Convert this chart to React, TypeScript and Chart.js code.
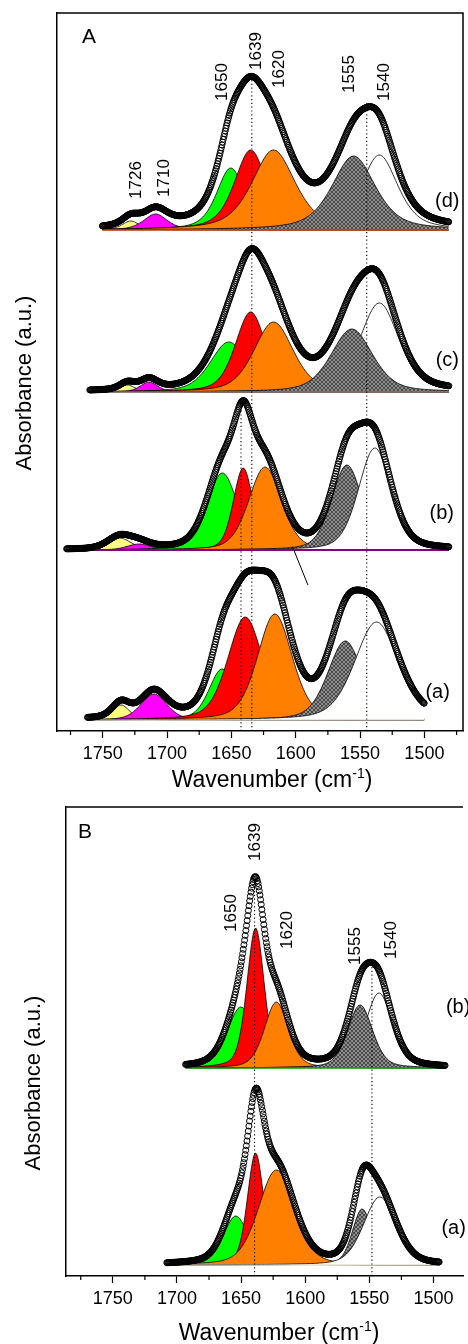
import React, { useEffect, useRef } from "react";
import { Chart, registerables } from "chart.js";

Chart.register(...registerables);

const FONT = "'Liberation Sans', Arial, Helvetica, sans-serif";

// ---------- axes ----------
const X_STEP = 50;
const X_MINOR_TICKS = [1475, 1525, 1575, 1625, 1675, 1725, 1775];
const A_X_RANGE = [1470, 1785.5];
const B_X_RANGE = [1477, 1786.5];
const A_Y_MAX = 7.18;
const B_Y_MAX = 4.69;

// ---------- band colours ----------
const BAND_FILLS_A = ["#ffff80", "#ff00ff", "#00ff00", "#ff0000", "#ff8000", "hatch", "#ffffff"];
const BAND_FILLS_B = ["#00ff00", "#ff0000", "#ff8000", "hatch", "#ffffff"];

// ---------- Panel A, spectrum (a) ----------
const A_A_CENTER = [1735.8, 1710.2, 1657.2, 1639.2, 1616.2, 1561.5, 1537.2];
const A_A_HEIGHT = [0.15, 0.26, 0.51, 1.03, 1.06, 0.79, 0.98];
const A_A_FWHM = [16, 24, 24, 32, 32, 32, 40];
const A_A_PAINT = [0, 1, 2, 3, 4, 5, 6];
const A_A_RANGE = [1761.8, 1500.2];
const A_A_BASE = 0.11;
const A_A_ETA = 0.35;

// ---------- Panel A, spectrum (b) ----------
const A_B_CENTER = [1737, 1721.8, 1657, 1640.8, 1623.8, 1560.2, 1538.5];
const A_B_HEIGHT = [0.12, 0.06, 0.77, 0.82, 0.83, 0.85, 1.02];
const A_B_FWHM = [22, 22, 28, 18, 30, 28, 30];
const A_B_PAINT = [0, 1, 2, 3, 4, 5, 6];
const A_B_RANGE = [1778, 1481];
const A_B_BASE = 1.81;
const A_B_ETA = 0.3;

// ---------- Panel A, spectrum (c) ----------
const A_C_CENTER = [1730.8, 1714, 1652, 1635, 1617.2, 1556.4, 1535];
const A_C_HEIGHT = [0.07, 0.1, 0.5, 0.8, 0.7, 0.63, 0.89];
const A_C_FWHM = [14, 16, 34, 28, 36, 38, 36];
const A_C_PAINT = [0, 1, 2, 3, 4, 6, 5];
const A_C_RANGE = [1760, 1481];
const A_C_BASE = 3.39;
const A_C_ETA = 0.4;

// ---------- Panel A, spectrum (d) ----------
const A_D_CENTER = [1728.2, 1708.9, 1650.5, 1635, 1617.2, 1555, 1535];
const A_D_HEIGHT = [0.09, 0.16, 0.62, 0.8, 0.8, 0.74, 0.75];
const A_D_FWHM = [16, 22, 26, 30, 40, 40, 34];
const A_D_PAINT = [0, 1, 2, 3, 4, 6, 5];
const A_D_RANGE = [1750.3, 1481.2];
const A_D_BASE = 5.01;
const A_D_ETA = 0.55;

// ---------- Panel B, spectrum (a) ----------
const B_A_CENTER = [1654.1, 1638.7, 1622.5, 1555.6, 1541.8];
const B_A_HEIGHT = [0.49, 1.12, 0.95, 0.56, 0.68];
const B_A_FWHM = [23, 15, 33, 18, 30];
const B_A_PAINT = [0, 1, 2, 3, 4];
const B_A_RANGE = [1707.9, 1495.6];
const B_A_BASE = 0.11;
const B_A_ETA = 0.3;

// ---------- Panel B, spectrum (b) ----------
const B_B_CENTER = [1650.2, 1638.7, 1622.5, 1557.2, 1542.5];
const B_B_HEIGHT = [0.61, 1.4, 0.66, 0.63, 0.75];
const B_B_FWHM = [25, 16, 22, 23, 25];
const B_B_PAINT = [0, 1, 2, 4, 3];
const B_B_RANGE = [1693.3, 1491];
const B_B_BASE = 2.08;
const B_B_ETA = 0.35;

// ---------- guides / annotations ----------
const A_GUIDE_X = [1634.1, 1642.5, 1544.8];
const A_GUIDE_TOP = [6.51, 3.31, 6.28];
const B_GUIDE_X = [1639.5, 1548];
const B_GUIDE_TOP = [3.99, 3.12];
const A_STROKE_X = [1602.5, 1590.5];
const A_STROKE_Y = [1.843, 1.46];

const A_LABELS = ["1726", "1710", "1650", "1639", "1620", "1555", "1540"];
const A_LABEL_X = [1724.1, 1701.8, 1657.2, 1631, 1612.5, 1558.7, 1531];
const A_LABEL_Y = [5.51, 5.53, 6.49, 6.8, 6.62, 6.57, 6.49];
const B_LABELS = ["1650", "1639", "1620", "1555", "1540"];
const B_LABEL_X = [1657.9, 1638.7, 1614, 1561.2, 1533.2];
const B_LABEL_Y = [3.63, 4.34, 3.46, 3.3, 3.36];

const A_TAGS = ["(a)", "(b)", "(c)", "(d)"];
const A_TAG_X = [1489.7, 1486.5, 1482.2, 1482.2];
const A_TAG_Y = [0.39, 2.18, 3.71, 5.3];
const B_TAGS = ["(a)", "(b)"];
const B_TAG_X = [1484.3, 1480.8];
const B_TAG_Y = [0.48, 2.69];

const X_TITLE = ["Wavenumber (cm", "-1", ")"];
const Y_TITLE = "Absorbance (a.u.)";

interface Spectrum {
  centers: number[];
  heights: number[];
  fwhm: number[];
  fills: string[];
  paint: number[];
  range: number[];
  base: number;
  eta: number;
  baseColor: string;
  baseWidth: number;
}

function band(x: number, c: number, h: number, f: number, eta: number) {
  const u = (x - c) / f;
  return h * (eta / (1 + 4 * u * u) + (1 - eta) * Math.exp(-4 * Math.LN2 * u * u));
}

function sampleXs(range: number[], step: number) {
  const xs: number[] = [];
  for (let x = range[0]; x > range[1] + 1e-6; x -= step) xs.push(x);
  xs.push(range[1]);
  return xs;
}

function makeHatch(): CanvasPattern | string {
  const c = document.createElement("canvas");
  c.width = 4;
  c.height = 4;
  const g = c.getContext("2d");
  if (!g) return "#888";
  g.fillStyle = "#8e8e8e";
  g.fillRect(0, 0, 4, 4);
  g.strokeStyle = "#2c2c2c";
  g.lineWidth = 0.7;
  g.beginPath();
  g.moveTo(0, 0);
  g.lineTo(4, 4);
  g.moveTo(4, 0);
  g.lineTo(0, 4);
  g.stroke();
  return g.createPattern(c, "repeat") || "#888";
}

function buildDatasets(
  specs: Spectrum[],
  guideX: number[],
  guideTop: number[],
  hatch: CanvasPattern | string,
  strokeX: number[] | null,
  strokeY: number[] | null
) {
  const list: any[] = [];
  for (const s of specs) {
    const xs = sampleXs(s.range, 1);
    for (const i of s.paint) {
      const fillKey = s.fills[i];
      list.push({
        data: xs.map((x) => ({ x, y: s.base + band(x, s.centers[i], s.heights[i], s.fwhm[i], s.eta) })),
        borderColor: "#000",
        borderWidth: 0.8,
        backgroundColor: fillKey === "hatch" ? hatch : fillKey,
        fill: { value: s.base },
        pointRadius: 0,
        showLine: true,
      });
    }
  }
  for (const s of specs) {
    list.push({
      data: [
        { x: s.range[0], y: s.base },
        { x: s.range[1], y: s.base },
      ],
      borderColor: s.baseColor,
      borderWidth: s.baseWidth,
      pointRadius: 0,
      fill: false,
    });
  }
  guideX.forEach((gx, k) => {
    list.push({
      data: [
        { x: gx, y: 0 },
        { x: gx, y: guideTop[k] },
      ],
      borderColor: "#000",
      borderWidth: 1.1,
      borderDash: [1.2, 2.6],
      pointRadius: 0,
      fill: false,
    });
  });
  if (strokeX && strokeY) {
    list.push({
      data: strokeX.map((x, k) => ({ x, y: strokeY[k] })),
      borderColor: "#000",
      borderWidth: 1,
      pointRadius: 0,
      fill: false,
    });
  }
  for (const s of specs) {
    const xs = sampleXs(s.range, 0.5);
    list.push({
      data: xs.map((x) => {
        let y = s.base;
        for (let i = 0; i < s.centers.length; i++) y += band(x, s.centers[i], s.heights[i], s.fwhm[i], s.eta);
        return { x, y };
      }),
      showLine: false,
      pointRadius: 3,
      pointBorderWidth: 1,
      pointBorderColor: "#000",
      pointBackgroundColor: "rgba(0,0,0,0)",
      borderColor: "#000",
      fill: false,
    });
  }
  return list.reverse();
}

interface PanelText {
  labels: string[];
  labelX: number[];
  labelY: number[];
  tags: string[];
  tagX: number[];
  tagY: number[];
  letter: string;
  letterX: number;
  letterY: number;
  rightBorder: boolean;
  xTitleCx: number;
  xTitleBase: number;
  yTitleCx: number;
  yTitleCy: number;
}

function annotPlugin(p: PanelText) {
  return {
    id: "annot",
    afterDraw(chart: any) {
      const { ctx, chartArea } = chart;
      const xs = chart.scales.x;
      const ys = chart.scales.y;
      ctx.save();
      ctx.strokeStyle = "#000";
      ctx.lineWidth = 1.5;
      ctx.beginPath();
      ctx.moveTo(chartArea.left, chartArea.top);
      ctx.lineTo(chartArea.right, chartArea.top);
      if (p.rightBorder) ctx.lineTo(chartArea.right, chartArea.bottom);
      ctx.stroke();
      ctx.lineWidth = 1.2;
      for (const v of X_MINOR_TICKS) {
        const px = xs.getPixelForValue(v);
        if (px < chartArea.left || px > chartArea.right) continue;
        ctx.beginPath();
        ctx.moveTo(px, chartArea.bottom);
        ctx.lineTo(px, chartArea.bottom + 4);
        ctx.stroke();
      }
      ctx.fillStyle = "#000";
      ctx.textAlign = "center";
      ctx.textBaseline = "middle";
      ctx.font = `17px ${FONT}`;
      p.labels.forEach((t, k) => {
        ctx.save();
        ctx.translate(xs.getPixelForValue(p.labelX[k]), ys.getPixelForValue(p.labelY[k]));
        ctx.rotate(-Math.PI / 2);
        ctx.fillText(t, 0, 0);
        ctx.restore();
      });
      ctx.font = `20px ${FONT}`;
      p.tags.forEach((t, k) => {
        ctx.fillText(t, xs.getPixelForValue(p.tagX[k]), ys.getPixelForValue(p.tagY[k]));
      });
      ctx.font = `21px ${FONT}`;
      ctx.fillText(p.letter, p.letterX, p.letterY);
      ctx.font = `22px ${FONT}`;
      ctx.save();
      ctx.translate(p.yTitleCx, p.yTitleCy);
      ctx.rotate(-Math.PI / 2);
      ctx.fillText(Y_TITLE, 0, 0);
      ctx.restore();
      ctx.textAlign = "left";
      ctx.textBaseline = "alphabetic";
      ctx.font = `23px ${FONT}`;
      const w0 = ctx.measureText(X_TITLE[0]).width;
      const w2 = ctx.measureText(X_TITLE[2]).width;
      ctx.font = `14px ${FONT}`;
      const w1 = ctx.measureText(X_TITLE[1]).width;
      let cx = p.xTitleCx - (w0 + w1 + w2) / 2;
      ctx.font = `23px ${FONT}`;
      ctx.fillText(X_TITLE[0], cx, p.xTitleBase);
      cx += w0;
      ctx.font = `14px ${FONT}`;
      ctx.fillText(X_TITLE[1], cx, p.xTitleBase - 9);
      cx += w1;
      ctx.font = `23px ${FONT}`;
      ctx.fillText(X_TITLE[2], cx, p.xTitleBase);
      ctx.restore();
    },
  };
}

function makeConfig(
  datasets: any[],
  xRange: number[],
  yMax: number,
  yWidth: number,
  padTop: number,
  padRight: number,
  xHeight: number,
  text: PanelText
): any {
  return {
    type: "line",
    data: { datasets },
    options: {
      animation: false,
      responsive: false,
      devicePixelRatio: 1,
      events: [],
      layout: { padding: { top: padTop, right: padRight, left: 0, bottom: 0 } },
      elements: { line: { tension: 0 } },
      plugins: { legend: { display: false }, tooltip: { enabled: false }, title: { display: false } },
      scales: {
        x: {
          type: "linear",
          reverse: true,
          min: xRange[0],
          max: xRange[1],
          afterFit: (s: any) => {
            s.height = xHeight;
          },
          ticks: {
            stepSize: X_STEP,
            includeBounds: false,
            autoSkip: false,
            maxRotation: 0,
            padding: 5,
            color: "#000",
            font: { family: FONT, size: 18 },
            callback: (v: any) => String(v),
          },
          grid: {
            display: true,
            drawOnChartArea: false,
            drawTicks: true,
            tickLength: 7,
            tickWidth: 1.2,
            tickColor: "#000",
            color: "#000",
          },
          border: { display: true, color: "#000", width: 1.5 },
          title: { display: false },
        },
        y: {
          type: "linear",
          min: 0,
          max: yMax,
          afterFit: (s: any) => {
            s.width = yWidth;
          },
          ticks: { display: false },
          grid: { display: false },
          border: { display: true, color: "#000", width: 1.5 },
          title: { display: false },
        },
      },
    },
    plugins: [annotPlugin(text)],
  };
}

export default function App() {
  const refA = useRef<HTMLCanvasElement>(null);
  const refB = useRef<HTMLCanvasElement>(null);

  useEffect(() => {
    document.body.style.margin = "0";
    const hatch = makeHatch();

    const specA: Spectrum[] = [
      { centers: A_A_CENTER, heights: A_A_HEIGHT, fwhm: A_A_FWHM, fills: BAND_FILLS_A, paint: A_A_PAINT, range: A_A_RANGE, base: A_A_BASE, eta: A_A_ETA, baseColor: "#d8c8b0", baseWidth: 1 },
      { centers: A_B_CENTER, heights: A_B_HEIGHT, fwhm: A_B_FWHM, fills: BAND_FILLS_A, paint: A_B_PAINT, range: A_B_RANGE, base: A_B_BASE, eta: A_B_ETA, baseColor: "#800080", baseWidth: 2 },
      { centers: A_C_CENTER, heights: A_C_HEIGHT, fwhm: A_C_FWHM, fills: BAND_FILLS_A, paint: A_C_PAINT, range: A_C_RANGE, base: A_C_BASE, eta: A_C_ETA, baseColor: "#8a6a6a", baseWidth: 1.5 },
      { centers: A_D_CENTER, heights: A_D_HEIGHT, fwhm: A_D_FWHM, fills: BAND_FILLS_A, paint: A_D_PAINT, range: A_D_RANGE, base: A_D_BASE, eta: A_D_ETA, baseColor: "#c04010", baseWidth: 1.5 },
    ];
    const specB: Spectrum[] = [
      { centers: B_A_CENTER, heights: B_A_HEIGHT, fwhm: B_A_FWHM, fills: BAND_FILLS_B, paint: B_A_PAINT, range: B_A_RANGE, base: B_A_BASE, eta: B_A_ETA, baseColor: "#d8d0b8", baseWidth: 1 },
      { centers: B_B_CENTER, heights: B_B_HEIGHT, fwhm: B_B_FWHM, fills: BAND_FILLS_B, paint: B_B_PAINT, range: B_B_RANGE, base: B_B_BASE, eta: B_B_ETA, baseColor: "#00a000", baseWidth: 1.5 },
    ];

    const textA: PanelText = {
      labels: A_LABELS, labelX: A_LABEL_X, labelY: A_LABEL_Y,
      tags: A_TAGS, tagX: A_TAG_X, tagY: A_TAG_Y,
      letter: "A", letterX: 89, letterY: 37, rightBorder: true,
      xTitleCx: 272, xTitleBase: 786.5, yTitleCx: 25, yTitleCy: 383,
    };
    const textB: PanelText = {
      labels: B_LABELS, labelX: B_LABEL_X, labelY: B_LABEL_Y,
      tags: B_TAGS, tagX: B_TAG_X, tagY: B_TAG_Y,
      letter: "B", letterX: 85, letterY: 832 - 795, rightBorder: false,
      xTitleCx: 279, xTitleBase: 1340 - 795, yTitleCx: 34, yTitleCy: 1083 - 795,
    };

    const chartA = new Chart(
      refA.current as HTMLCanvasElement,
      makeConfig(buildDatasets(specA, A_GUIDE_X, A_GUIDE_TOP, hatch, A_STROKE_X, A_STROKE_Y), A_X_RANGE, A_Y_MAX, 57, 13, 1, 64, textA)
    );
    const chartB = new Chart(
      refB.current as HTMLCanvasElement,
      makeConfig(buildDatasets(specB, B_GUIDE_X, B_GUIDE_TOP, hatch, null, null), B_X_RANGE, B_Y_MAX, 66, 12, 0, 68, textB)
    );
    return () => {
      chartA.destroy();
      chartB.destroy();
    };
  }, []);

  return (
    <div style={{ position: "relative", width: 468, height: 1344, background: "#fff", overflow: "hidden" }}>
      <canvas ref={refA} width={468} height={795} style={{ position: "absolute", left: 0, top: 0, width: 468, height: 795 }} />
      <canvas ref={refB} width={468} height={549} style={{ position: "absolute", left: 0, top: 795, width: 468, height: 549 }} />
    </div>
  );
}
